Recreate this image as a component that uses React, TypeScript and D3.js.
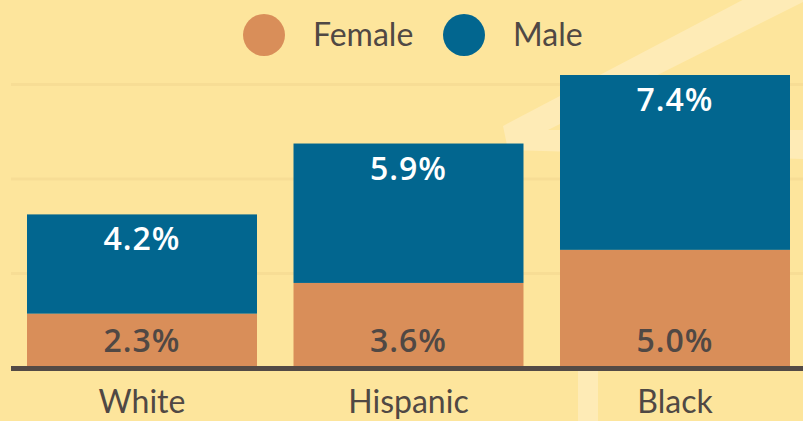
import React from 'react';
import * as d3 from 'd3';

const groups = ['White', 'Hispanic', 'Black'];
const female = [2.3, 3.6, 5.0];
const male = [4.2, 5.9, 7.4];
const gridValues = [4, 8, 12];
const seriesNames = ['Female', 'Male'];

const W = 803;
const H = 421;
const BG = '#fde59c';
const ORANGE = '#d98e59';
const BLUE = '#02668f';
const DARK = '#504844';

const App: React.FC = () => {
  const x = d3.scaleBand<string>()
    .domain(groups)
    .range([27, 790])
    .paddingInner(0.137)
    .paddingOuter(0);

  const y = d3.scaleLinear()
    .domain([0, 12.4])
    .range([368, 75]);

  const rows = groups.map((g, i) => ({ group: g, Female: female[i], Male: male[i] }));
  const stacked = d3.stack<any>().keys(seriesNames)(rows);
  const colors = d3.scaleOrdinal<string, string>().domain(seriesNames).range([ORANGE, BLUE]);

  // faint decorative arrow in the background
  const deco = d3.line()([
    [503, 126], [752, -5], [803, -5], [803, 2], [548, 130],
    [803, 130], [803, 159], [598, 153], [598, 421], [578, 421], [578, 152], [508, 150],
  ]);

  const legendX = [242, 442];

  return (
    <svg width={W} height={H} style={{ position: 'absolute', left: 0, top: 0, display: 'block' }}>
      <rect width={W} height={H} fill={BG} />
      {gridValues.map(v => (
        <line key={v} x1={11} x2={W} y1={y(v)} y2={y(v)} stroke="#f7dd95" strokeWidth={3} />
      ))}
      <path d={deco ?? ''} fill="#feebb6" />

      {stacked.map(layer => (
        <g key={layer.key} fill={colors(layer.key)}>
          {layer.map((d, i) => (
            <rect
              key={groups[i]}
              x={x(groups[i])}
              y={y(d[1])}
              width={x.bandwidth()}
              height={y(d[0]) - y(d[1])}
            />
          ))}
        </g>
      ))}

      {groups.map((g, i) => (
        <g key={g} fontFamily="'Open Sans', sans-serif" fontWeight={600} fontSize={32} letterSpacing={1} textAnchor="middle">
          <text x={(x(g) ?? 0) + x.bandwidth() / 2} y={y(female[i] + male[i]) + 36} fill="#ffffff">
            {male[i].toFixed(1)}%
          </text>
          <text x={(x(g) ?? 0) + x.bandwidth() / 2} y={y(0) - 16} fill={DARK}>
            {female[i].toFixed(1)}%
          </text>
        </g>
      ))}

      <rect x={11} y={y(0) - 2} width={W - 11} height={5} fill="#534a45" />

      {groups.map(g => (
        <text
          key={g}
          x={(x(g) ?? 0) + x.bandwidth() / 2}
          y={413}
          textAnchor="middle"
          fontFamily="Lato, sans-serif"
          fontSize={32}
          fill={DARK}
        >
          {g}
        </text>
      ))}

      {seriesNames.map((s, i) => (
        <g key={s} transform={`translate(${legendX[i]},0)`}>
          <circle cx={22} cy={35} r={21} fill={colors(s)} />
          <text x={71} y={46} fontFamily="Lato, sans-serif" fontSize={32} fill={DARK}>{s}</text>
        </g>
      ))}
    </svg>
  );
};

export default App;
